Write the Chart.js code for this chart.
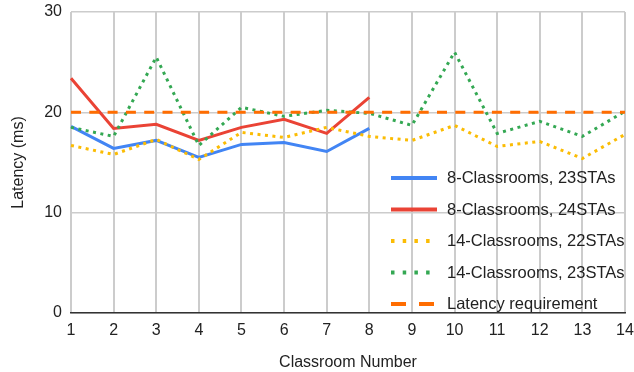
<!DOCTYPE html>
<html>
<head>
<meta charset="utf-8">
<script src="https://cdn.jsdelivr.net/npm/chart.js@4/dist/chart.umd.min.js"></script>
<style>
  html, body { margin: 0; padding: 0; background: #fff; }
  #wrap { position: relative; width: 634px; height: 372px; }
</style>
</head>
<body>
<div id="wrap"><canvas id="c" width="634" height="372"></canvas></div>
<script>
const categories = ['1','2','3','4','5','6','7','8','9','10','11','12','13','14'];
const seriesNames = ['8-Classrooms, 23STAs','8-Classrooms, 24STAs','14-Classrooms, 22STAs','14-Classrooms, 23STAs','Latency requirement'];
const cls8sta23 = [18.6, 16.4, 17.2, 15.5, 16.8, 17.0, 16.1, 18.4];
const cls8sta24 = [23.4, 18.4, 18.8, 17.2, 18.5, 19.3, 17.9, 21.5];
const cls14sta22 = [16.7, 15.8, 17.3, 15.3, 18.0, 17.5, 18.5, 17.6, 17.2, 18.7, 16.6, 17.1, 15.4, 17.8];
const cls14sta23 = [18.5, 17.6, 25.5, 16.7, 20.5, 19.6, 20.2, 19.9, 18.7, 26.0, 17.9, 19.1, 17.6, 20.1];
const requirement = [20, 20, 20, 20, 20, 20, 20, 20, 20, 20, 20, 20, 20, 20];
const yTicks = [0, 10, 20, 30];

const FONT = 'Arial, "Liberation Sans", sans-serif';
const colors = ['#4285F4', '#EA4335', '#FBBC04', '#34A853', '#FF6D01'];
const dashes = [[], [], [3, 4.5], [3, 4.5], [10, 8.3]];
const legendDash = [[], [], [3.5, 8.2], [3.5, 8.2], [15, 13]];

const legendPlugin = {
  id: 'inLegend',
  afterDatasetsDraw(chart) {
    const ctx = chart.ctx;
    const rows = [178, 209.5, 241, 272.5, 304];
    ctx.save();
    seriesNames.forEach((name, i) => {
      const y = rows[i];
      ctx.beginPath();
      ctx.setLineDash(legendDash[i]);
      ctx.lineCap = 'butt';
      ctx.strokeStyle = colors[i];
      ctx.lineWidth = 4;
      ctx.moveTo(391, y);
      ctx.lineTo(437, y);
      ctx.stroke();
      ctx.setLineDash([]);
      ctx.fillStyle = '#222';
      ctx.font = '16.5px ' + FONT;
      ctx.textBaseline = 'middle';
      ctx.textAlign = 'left';
      ctx.fillText(name, 447, y + 0.5);
    });
    ctx.restore();
  }
};

const datasetsData = [cls8sta23, cls8sta24, cls14sta22, cls14sta23, requirement];
const orders = [4, 3, 2, 1, 0];

function zeroPad(scale) {
  scale.paddingTop = 0; scale.paddingBottom = 0;
  scale.paddingLeft = 0; scale.paddingRight = 0;
}

new Chart(document.getElementById('c'), {
  type: 'line',
  data: {
    labels: categories,
    datasets: datasetsData.map((d, i) => ({
      label: seriesNames[i],
      data: d,
      borderColor: colors[i],
      backgroundColor: colors[i],
      borderWidth: 3,
      borderDash: dashes[i],
      borderCapStyle: 'butt',
      pointRadius: 0,
      tension: 0,
      fill: false,
      order: orders[i]
    }))
  },
  options: {
    responsive: false,
    animation: false,
    devicePixelRatio: 1,
    layout: { padding: { top: 12, right: 9, left: 0, bottom: 0 } },
    plugins: { legend: { display: false }, tooltip: { enabled: false } },
    scales: {
      x: {
        type: 'category',
        offset: false,
        grid: { color: '#cccccc', lineWidth: 2, drawTicks: false },
        border: { display: true, color: '#333333', width: 1.5 },
        ticks: { color: '#222', font: { family: FONT, size: 16 }, padding: 8, maxRotation: 0, autoSkip: false },
        title: { display: true, text: 'Classroom Number', color: '#222', font: { family: FONT, size: 16 }, padding: { top: 0, bottom: 0 } },
        afterFit(scale) { scale.height = 59; zeroPad(scale); }
      },
      y: {
        min: 0, max: 30,
        afterBuildTicks(scale) { scale.ticks = yTicks.map(v => ({ value: v })); },
        grid: { color: '#cccccc', lineWidth: 1.5, drawTicks: false },
        border: { display: false },
        ticks: { color: '#222', font: { family: FONT, size: 16 }, padding: 9 },
        title: { display: true, text: 'Latency (ms)', color: '#222', font: { family: FONT, size: 16 }, padding: { top: 9, bottom: 0 } },
        afterFit(scale) { scale.width = 71; zeroPad(scale); }
      }
    }
  },
  plugins: [legendPlugin]
});
</script>
</body>
</html>
